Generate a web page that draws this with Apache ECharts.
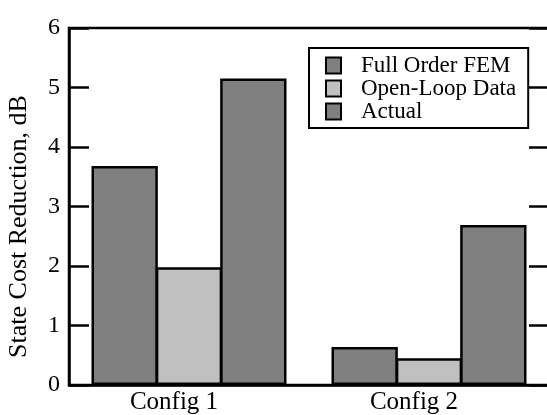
<!DOCTYPE html>
<html>
<head>
<meta charset="utf-8">
<script src="https://cdn.jsdelivr.net/npm/echarts@6/dist/echarts.min.js"></script>
<style>
html,body{margin:0;padding:0;background:#fff;}
#chart{width:547px;height:415px;}
</style>
</head>
<body>
<div id="chart"></div>
<script>
const categories = ['Config 1', 'Config 2'];
const seriesNames = ['Full Order FEM', 'Open-Loop Data', 'Actual'];
const fullOrderFEM = [3.68, 0.64];
const openLoopData = [1.98, 0.45];
const actual = [5.15, 2.69];
const yTicks = [0, 1, 2, 3, 4, 5, 6];

const FONT = '"Liberation Serif", "Times New Roman", serif';
const chart = echarts.init(document.getElementById('chart'), null, {renderer: 'canvas'});

function barSeries(name, data, color) {
  return {
    name: name,
    type: 'bar',
    data: data,
    barGap: '-3%',
    barCategoryGap: '18.75%',
    itemStyle: {color: color, borderColor: '#000', borderWidth: 2.5},
    emphasis: {disabled: true}
  };
}

chart.setOption({
  animation: false,
  backgroundColor: '#fff',
  grid: {left: 69, top: 28, width: 480, bottom: 30, outerBoundsMode: 'none', containLabel: false,
         show: true, borderColor: '#000', borderWidth: 2.5, backgroundColor: 'transparent'},
  legend: {
    orient: 'vertical',
    left: 309, top: 48,
    data: seriesNames,
    backgroundColor: '#fff',
    borderColor: '#000', borderWidth: 2,
    padding: [6, 12, 5, 16],
    itemWidth: 15, itemHeight: 16, itemGap: 0,
    icon: 'rect',
    itemStyle: {borderWidth: 2},
    textStyle: {fontFamily: FONT, fontSize: 23, color: '#000', padding: [0, 0, 0, 15]}
  },
  xAxis: {
    type: 'category',
    data: categories,
    axisLine: {show: true, lineStyle: {color: '#000', width: 2.5}},
    axisTick: {show: false},
    axisLabel: {fontFamily: FONT, fontSize: 25, color: '#000', margin: 5, padding: [0, 30, 0, 0]}
  },
  yAxis: [{
    type: 'value',
    min: 0, max: 6, interval: 1,
    name: 'State Cost Reduction, dB',
    nameLocation: 'middle',
    nameRotate: 90,
    nameGap: 37,
    nameTextStyle: {fontFamily: FONT, fontSize: 26, color: '#000', padding: [0, 40, 0, 0]},
    axisLine: {show: true, lineStyle: {color: '#000', width: 2.5}},
    axisTick: {show: true, inside: true, length: 20, lineStyle: {color: '#000', width: 2.5}},
    axisLabel: {fontFamily: FONT, fontSize: 24, color: '#000', margin: 9},
    splitLine: {show: false}
  }, {
    type: 'value',
    position: 'right',
    min: 0, max: 6, interval: 1,
    axisLine: {show: true, lineStyle: {color: '#000', width: 2.5}},
    axisTick: {show: true, inside: true, length: 20, lineStyle: {color: '#000', width: 2.5}},
    axisLabel: {show: false},
    splitLine: {show: false}
  }],
  series: [
    barSeries(seriesNames[0], fullOrderFEM, '#808080'),
    barSeries(seriesNames[1], openLoopData, '#c0c0c0'),
    barSeries(seriesNames[2], actual, '#808080')
  ]
});
</script>
</body>
</html>
